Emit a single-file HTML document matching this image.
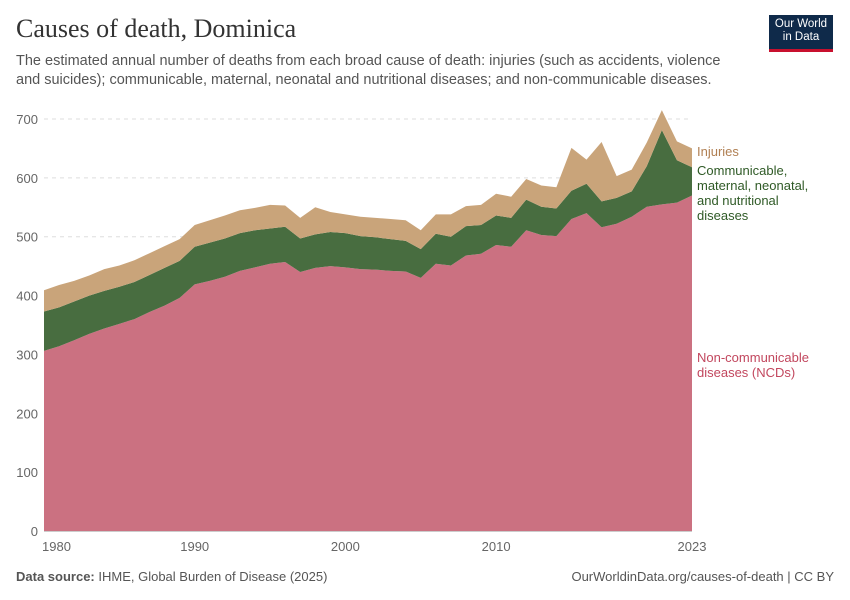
<!DOCTYPE html>
<html><head><meta charset="utf-8"><style>
body{margin:0;background:#fff;font-family:"Liberation Sans",sans-serif;}
#wrap{position:relative;width:850px;height:600px;overflow:hidden}
.t{position:absolute;margin:0}
</style></head><body>
<div id="wrap">
<h1 class="t" style="left:16px;top:14px;font-family:'Liberation Serif',serif;font-size:26px;font-weight:normal;color:#333">Causes of death, Dominica</h1>
<p class="t" style="left:16px;top:52px;width:720px;font-size:14.5px;line-height:19px;color:#555">The estimated annual number of deaths from each broad cause of death: injuries (such as accidents, violence and suicides); communicable, maternal, neonatal and nutritional diseases; and non-communicable diseases.</p>
<div style="position:absolute;left:769px;top:15px;width:64px;height:37px;background:#0f2a4a;border-bottom:3px solid #c8102e;color:#fff;font-size:11.5px;line-height:13px;text-align:center;padding-top:3px;box-sizing:border-box">Our World<br>in Data</div>
<svg id="chart" width="850" height="600" style="position:absolute;left:0;top:0"></svg>
<p class="t" style="left:16px;top:569px;font-size:13px;color:#555"><b>Data source:</b> IHME, Global Burden of Disease (2025)</p>
<p class="t" style="right:16px;top:569px;font-size:13px;color:#555">OurWorldinData.org/causes-of-death | CC BY</p>
</div>
<script>
const years=[];for(let y=1980;y<=2023;y++)years.push(y);
const ncd=[306,314,324,335,344,352,360,372,383,396,419,425,432,442,448,454,457,440,447,450,448,445,444,442,441,430,454,451,468,471,486,483,511,503,501,530,540,516,522,534,551,555,558,570];
const ncdComm=[373,380,390,400,408,415,423,435,447,459,483,490,497,506,511,514,517,497,504,508,506,501,499,496,493,479,505,500,518,520,536,532,563,551,548,578,590,560,566,577,620,681,630,618];
const total=[409,418,425,434,445,451,460,472,484,496,520,528,536,545,549,554,553,532,550,542,538,534,532,530,528,511,538,538,552,554,573,568,598,587,584,651,631,661,603,614,660,715,662,650];
const comm=ncdComm.map((v,i)=>v-ncd[i]);
const inj=total.map((v,i)=>v-ncdComm[i]);
const yTicks=[0,100,200,300,400,500,600,700];
const xTicks=[1980,1990,2000,2010,2023];
const svg=document.getElementById('chart');const NS='http://www.w3.org/2000/svg';
const X=y=>44+(y-1980)*(648/43);
const Y=v=>531-v*(412/700);
function mk(t,a){const e=document.createElementNS(NS,t);for(const k in a)e.setAttribute(k,a[k]);svg.appendChild(e);return e;}
yTicks.forEach(v=>{
  const l=mk('line',{x1:44,x2:692,y1:Y(v),y2:Y(v),stroke:v===0?'#999':'#ddd','stroke-dasharray':v===0?'':'4,4'});
  
  
  const t=mk('text',{x:38,y:Y(v)+5,'text-anchor':'end','font-size':13,fill:'#666','font-family':'Liberation Sans'});
  t.textContent=v;
  
  
});
function area(lo,hi,fill,name){
  let d='M'+years.map((y,i)=>X(y)+','+Y(hi[i])).join('L');
  for(let i=years.length-1;i>=0;i--)d+='L'+X(years[i])+','+Y(lo[i]);
  const p=mk('path',{d:d+'Z',fill:fill});
  
  
}
const zero=years.map(()=>0);
area(zero,ncd,'#cb7181','area-ncd');
area(ncd,ncdComm,'#486d40','area-communicable');
area(ncdComm,total,'#c9a47a','area-injuries');
xTicks.forEach(y=>{
  const t=mk('text',{x:X(y),y:551,'text-anchor':y===1980?'start':'middle','font-size':13,fill:'#666','font-family':'Liberation Sans'});
  if(y===1980)t.setAttribute('x',X(y)-2);
  t.textContent=y;
  
  
});
function lab(lines,y0,col,name){
  const t=mk('text',{x:697,y:y0,'font-size':13,fill:col,'font-family':'Liberation Sans'});
  lines.forEach((s,i)=>{const ts=document.createElementNS(NS,'tspan');ts.setAttribute('x',697);ts.setAttribute('dy',i?15:0);ts.textContent=s;t.appendChild(ts);});
  
  
}
lab(['Injuries'],156,'#b07f52','legend-injuries');
lab(['Communicable,','maternal, neonatal,','and nutritional','diseases'],175,'#2f5a26','legend-communicable');
lab(['Non-communicable','diseases (NCDs)'],362,'#c2475e','legend-ncd');
</script>
</body></html>
